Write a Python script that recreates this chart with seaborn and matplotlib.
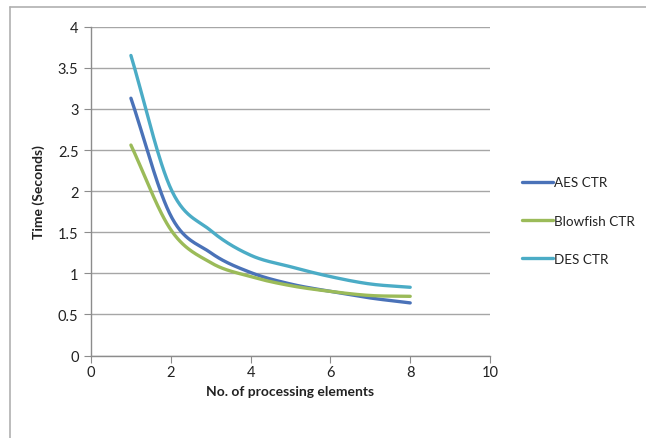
import numpy as np
import pandas as pd
import matplotlib
matplotlib.use("Agg")
import matplotlib.pyplot as plt
from matplotlib.lines import Line2D
import seaborn as sns

# ---- data ----
elements = [1, 2, 3, 4, 5, 6, 7, 8]
aes_ctr = [3.13, 1.70, 1.25, 1.01, 0.87, 0.78, 0.70, 0.64]
blowfish_ctr = [2.56, 1.53, 1.13, 0.96, 0.85, 0.78, 0.73, 0.72]
des_ctr = [3.65, 2.03, 1.52, 1.22, 1.08, 0.96, 0.87, 0.83]
series_names = ["AES CTR", "Blowfish CTR", "DES CTR"]
colors = ["#4A72B8", "#9BBB59", "#4BACC6"]
y_ticks = [0, 0.5, 1, 1.5, 2, 2.5, 3, 3.5, 4]
y_tick_labels = ["0", "0.5", "1", "1.5", "2", "2.5", "3", "3.5", "4"]
x_ticks = [0, 2, 4, 6, 8, 10]


def smooth(xs, ys, n=30):
    """Catmull-Rom rendering of the polyline through the data points (Excel-style smoothing)."""
    xs = np.asarray(xs, float)
    ys = np.asarray(ys, float)
    px = np.concatenate([[2 * xs[0] - xs[1]], xs, [2 * xs[-1] - xs[-2]]])
    py = np.concatenate([[2 * ys[0] - ys[1]], ys, [2 * ys[-1] - ys[-2]]])
    outx, outy = [], []
    t = np.linspace(0, 1, n, endpoint=False)
    for i in range(1, len(px) - 2):
        for arr_p, out in ((px, outx), (py, outy)):
            p0, p1, p2, p3 = arr_p[i - 1], arr_p[i], arr_p[i + 1], arr_p[i + 2]
            out.extend(0.5 * ((2 * p1) + (-p0 + p2) * t
                              + (2 * p0 - 5 * p1 + 4 * p2 - p3) * t ** 2
                              + (-p0 + 3 * p1 - 3 * p2 + p3) * t ** 3))
    outx.append(xs[-1])
    outy.append(ys[-1])
    return outx, outy


frames = []
for name, vals in zip(series_names, [aes_ctr, blowfish_ctr, des_ctr]):
    sx, sy = smooth(elements, vals)
    frames.append(pd.DataFrame({"x": sx, "y": sy, "series": name, "order": range(len(sx))}))
df = pd.concat(frames, ignore_index=True)

sns.set_style("white")
plt.rcParams["font.family"] = ["Lato", "DejaVu Sans"]

fig = plt.figure(figsize=(6.46, 4.39), dpi=100)
ax = fig.add_axes([0.1409, 0.1879, 0.6176, 0.749])

sns.lineplot(data=df, x="x", y="y", hue="series", palette=dict(zip(series_names, colors)),
             sort=False, estimator=None, units="series", linewidth=2.4, ax=ax, legend=False)

ax.set_xlim(0, 10)
ax.set_ylim(0, 4)
ax.set_xticks(x_ticks)
ax.set_yticks(y_ticks)
ax.set_yticklabels(y_tick_labels)
ax.yaxis.grid(True, color="#A6A6A6", linewidth=1.0)
ax.xaxis.grid(False)
ax.set_axisbelow(True)
for side in ["top", "right"]:
    ax.spines[side].set_visible(False)
for side in ["left", "bottom"]:
    ax.spines[side].set_color("#8C8C8C")
    ax.spines[side].set_linewidth(1.0)
ax.tick_params(axis="both", which="major", direction="out", length=5, width=0.8,
               color="#8C8C8C", labelsize=10.5, labelcolor="#222222", bottom=True, left=True)
ax.tick_params(axis="x", pad=2)
ax.tick_params(axis="y", pad=4)
ax.set_xlabel("No. of processing elements", fontsize=10, fontweight="bold", color="#222222", labelpad=4)
ax.set_ylabel("Time (Seconds)", fontsize=10, fontweight="bold", color="#222222", labelpad=9)

handles = [Line2D([0], [0], color=c, linewidth=2.4) for c in colors]
leg = ax.legend(handles, series_names, loc="center left", bbox_to_anchor=(1.05, 0.41),
                frameon=False, fontsize=9.7, handlelength=2.3, handletextpad=0.1,
                labelspacing=1.95)
for t in leg.get_texts():
    t.set_color("#222222")

# outer chart border (top and left visible)
fig.add_artist(Line2D([10 / 646, 1.0], [1 - 7.5 / 439, 1 - 7.5 / 439], color="#B0B0B0", linewidth=1.2))
fig.add_artist(Line2D([10 / 646, 10 / 646], [0.0, 1 - 7.5 / 439], color="#B0B0B0", linewidth=1.2))

fig.savefig("out.png", dpi=100)
